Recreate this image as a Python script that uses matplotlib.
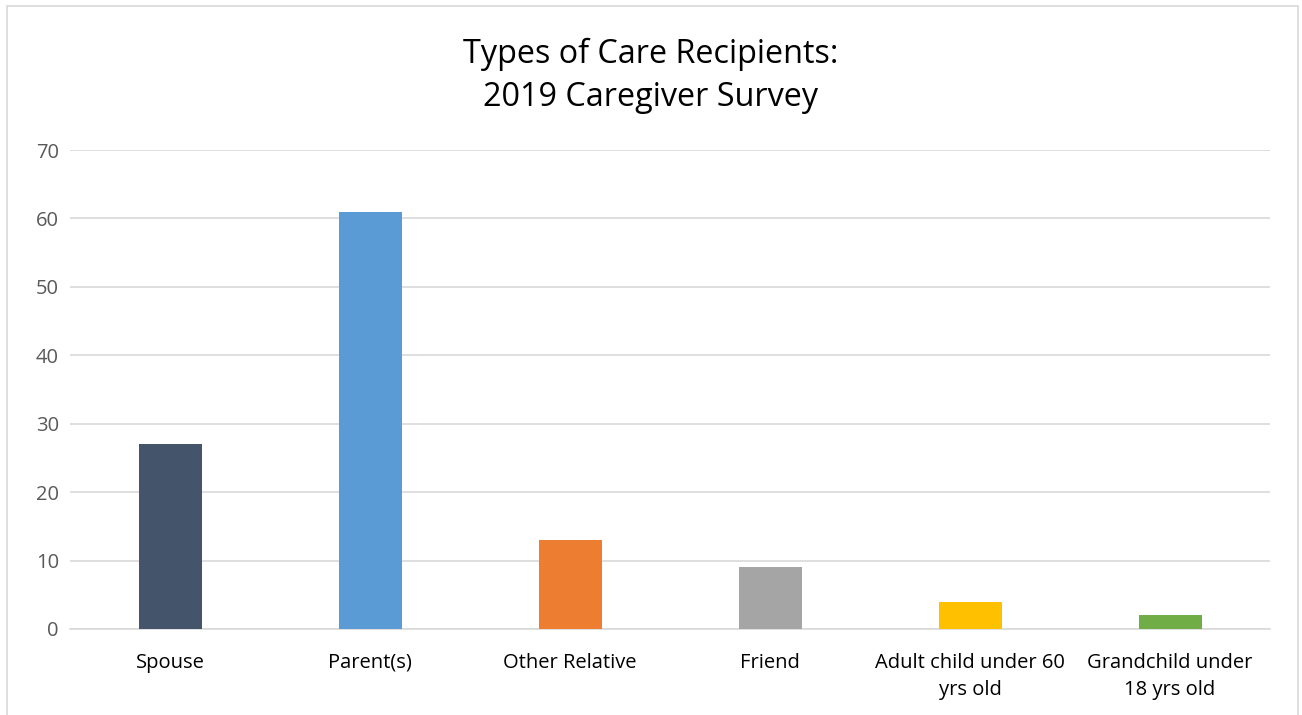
import matplotlib
matplotlib.use("Agg")
import matplotlib.pyplot as plt
from matplotlib.patches import Rectangle

# chart data
categories = ["Spouse", "Parent(s)", "Other Relative", "Friend",
              "Adult child under 60\nyrs old", "Grandchild under\n18 yrs old"]
counts = [27, 61, 13, 9, 4, 2]
bar_colors = ["#44546A", "#5B9BD5", "#ED7D31", "#A5A5A5", "#FFC000", "#70AD47"]
y_ticks = [0, 10, 20, 30, 40, 50, 60, 70]

plt.rcParams['font.family'] = ['Open Sans', 'DejaVu Sans']

fig = plt.figure(figsize=(13.02, 7.15), dpi=100)
ax = fig.add_axes([70/1302, 86/715, 1200/1302, 479/715])

x = range(len(categories))
ax.bar(x, counts, width=0.315, color=bar_colors, zorder=3)

ax.set_xlim(-0.5, len(categories) - 0.5)
ax.set_ylim(0, 70)
ax.set_yticks(y_ticks)
ax.set_xticks(list(x))
ax.set_xticklabels(categories, fontsize=14.5, color="#000000", linespacing=1.5)
ax.tick_params(axis='y', labelsize=14.5, labelcolor="#595959", length=0, pad=8)
ax.tick_params(axis='x', length=0, pad=17)
ax.grid(axis='y', color="#D9D9D9", linewidth=1.2, zorder=0)
for s in ['top', 'right', 'left']:
    ax.spines[s].set_visible(False)
ax.spines['bottom'].set_color("#D9D9D9")
ax.spines['bottom'].set_linewidth(1.2)

fig.text(0.5, 1 - 76/715, "Types of Care Recipients:\n2019 Caregiver Survey",
         ha='center', va='center', fontsize=23.3, color="#000000", linespacing=1.4)

# outer chart border
fig.patches.append(Rectangle((7/1302, -0.01), 1291/1302, 1.0 - 6/715 + 0.01,
                             transform=fig.transFigure, fill=False,
                             edgecolor="#D9D9D9", linewidth=1.2))

fig.savefig("out.png", dpi=100)
